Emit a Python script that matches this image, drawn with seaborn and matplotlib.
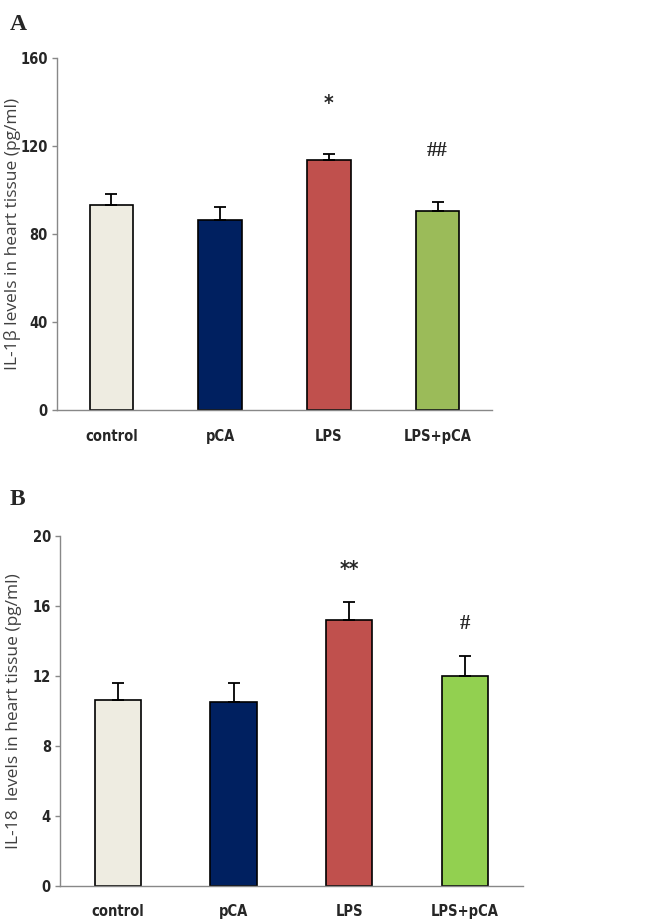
import numpy as np
import pandas as pd
import matplotlib
matplotlib.use("Agg")
import matplotlib.pyplot as plt
import seaborn as sns

# Data
groups = ["control", "pCA", "LPS", "LPS+pCA"]
il1b_mean = [93.0, 86.5, 113.5, 90.5]
il1b_sem = [5.0, 6.0, 2.7, 4.0]
il18_mean = [10.6, 10.5, 15.2, 12.0]
il18_sem = [1.0, 1.1, 1.0, 1.1]
sig_a = ["", "", "*", "##"]
sig_b = ["", "", "**", "#"]

colors_a = ["#EEECE1", "#002060", "#C0504D", "#9BBB59"]
colors_b = ["#EEECE1", "#002060", "#C0504D", "#92D050"]

sns.set_style("white")
tick_font = ["Liberation Sans Narrow", "DejaVu Sans"]
label_font = ["Open Sans", "DejaVu Sans"]
serif_font = ["Liberation Serif", "DejaVu Serif"]

fig = plt.figure(figsize=(6.52, 9.22), dpi=100)
ax_a = fig.add_axes([0.0874, 0.5553, 0.667, 0.3818])
ax_b = fig.add_axes([0.092, 0.0394, 0.710, 0.3796])


def draw_panel(ax, means, sems, colors, sig, ymax, step, ylabel, sig_offset,
               sig_fonts, label_xy):
    df = pd.DataFrame({"group": groups, "value": means})
    sns.barplot(data=df, x="group", y="value", hue="group", palette=colors,
                legend=False, width=0.4, edgecolor="black", linewidth=1.2,
                ax=ax, saturation=1)
    x = np.arange(len(groups))
    ax.errorbar(x, means, yerr=[np.zeros(len(sems)), sems], fmt="none",
                ecolor="black", elinewidth=1.3, capsize=4, capthick=1.3)
    for xi, m, s, t, f in zip(x, means, sems, sig, sig_fonts):
        if t:
            ax.text(xi, m + s + sig_offset, t, ha="center", va="center",
                    fontsize=15, fontweight="bold", family=f,
                    fontstretch="condensed")
    ax.set_ylim(0, ymax)
    ax.set_xlim(-0.5, len(groups) - 0.5)
    ax.set_yticks(np.arange(0, ymax + step / 2, step))
    ax.set_xlabel("")
    ax.set_ylabel(ylabel, fontsize=12.5, color="#404040", family=label_font)
    ax.yaxis.set_label_coords(*label_xy)
    for sp in ["top", "right"]:
        ax.spines[sp].set_visible(False)
    for sp in ["left", "bottom"]:
        ax.spines[sp].set_color("#888888")
        ax.spines[sp].set_linewidth(1.0)
    ax.tick_params(axis="y", left=True, length=3.5, color="#888888", width=1,
                   pad=3)
    ax.tick_params(axis="x", bottom=False, pad=10)
    for lab in ax.get_xticklabels() + ax.get_yticklabels():
        lab.set_family(tick_font)
        lab.set_fontweight("bold")
        lab.set_fontstretch("condensed")
        lab.set_fontsize(10.5)


draw_panel(ax_a, il1b_mean, il1b_sem, colors_a, sig_a, 160, 40,
           "IL-1β levels in heart tissue (pg/ml)", 23,
           [None, None, tick_font, serif_font], (-0.082, 0.50))
draw_panel(ax_b, il18_mean, il18_sem, colors_b, sig_b, 20, 4,
           "IL-18  levels in heart tissue (pg/ml)", 1.85,
           [None, None, tick_font, serif_font], (-0.083, 0.50))

fig.text(0.015, 0.985, "A", fontsize=17, fontweight="bold",
         family=serif_font, va="top")
fig.text(0.015, 0.47, "B", fontsize=17, fontweight="bold",
         family=serif_font, va="top")

fig.savefig("out.png", dpi=100)
